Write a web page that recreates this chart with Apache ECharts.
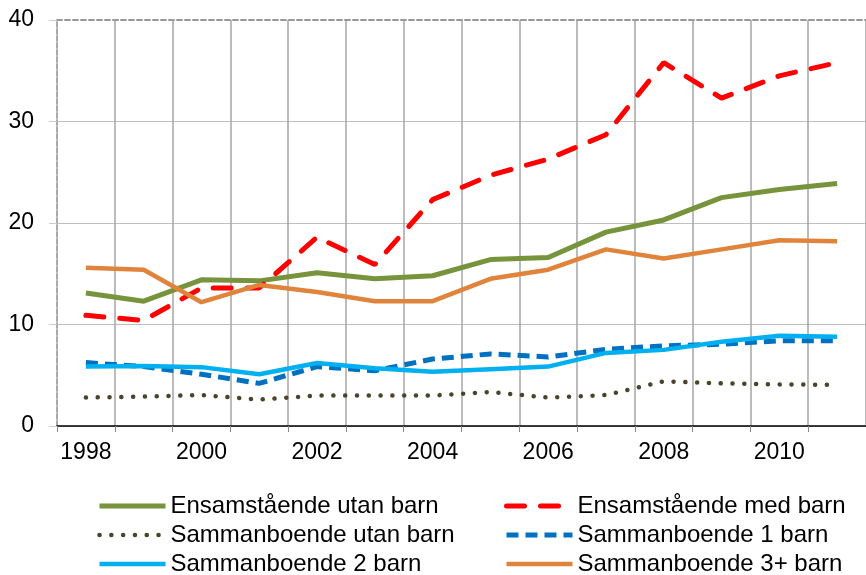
<!DOCTYPE html>
<html>
<head>
<meta charset="utf-8">
<script src="https://cdn.jsdelivr.net/npm/echarts@6/dist/echarts.min.js"></script>
<style>
  html, body { margin: 0; padding: 0; background: #fff; }
  #chart { width: 866px; height: 575px; }
</style>
</head>
<body>
<div id="chart"></div>
<script>
  // år
  const years = ['1998','1999','2000','2001','2002','2003','2004','2005','2006','2007','2008','2009','2010','2011']

  // värden
  const ensamUtan  = [13.1, 12.3, 14.4, 14.3, 15.1, 14.5, 14.8, 16.4, 16.6, 19.1, 20.3, 22.5, 23.3, 23.9]
  const ensamMed   = [10.9, 10.4, 13.6, 13.6, 18.6, 15.9, 22.3, 24.7, 26.3, 28.7, 35.8, 32.3, 34.5, 35.8]
  const sammUtan   = [2.8, 2.9, 3.05, 2.6, 3.0, 3.0, 3.0, 3.35, 2.8, 3.05, 4.4, 4.2, 4.1, 4.05]
  const samm1      = [6.25, 5.85, 5.1, 4.2, 5.85, 5.45, 6.6, 7.1, 6.8, 7.55, 7.9, 8.05, 8.4, 8.4]
  const samm2      = [5.85, 5.9, 5.8, 5.1, 6.2, 5.7, 5.35, 5.6, 5.85, 7.2, 7.5, 8.3, 8.9, 8.8]
  const samm3      = [15.6, 15.4, 12.2, 13.9, 13.2, 12.3, 12.3, 14.5, 15.4, 17.4, 16.5, 17.4, 18.3, 18.2]

  const font = "'Liberation Sans', Arial, sans-serif"

  function line(name, data, color, type, width, cap){
    return {
      name: name,
      type: 'line',
      data: data,
      symbol: 'none',
      smooth: false,
      z: 3,
      lineStyle: {
        color: color,
        width: width,
        type: type,
        cap: cap || 'butt'
      },
      itemStyle: { color: color }
    }
  }

  let legendBase = {
    top: 494,
    height: 110,      // så att den inte bryts i två kolumner
    orient: 'vertical',
    itemWidth: 66, itemHeight: 14, itemGap: 5,
    padding: 0,
    itemStyle: { opacity: 0 },          // bara linjen, ingen cirkel
    lineStyle: { width: 'inherit' },
    textStyle: { fontSize: 24, color: '#000', fontFamily: font }
  }

  let chart = echarts.init(document.getElementById('chart'))
  chart.setOption({
    animation: false,
    backgroundColor: '#fff',
    textStyle: { fontFamily: font },
    grid: {
      left: 57,
      top: 20,
      width: 819,    // går utanför bilden till höger, som i originalet
      height: 406
    },
    legend: [
      Object.assign({}, legendBase, {
        left: 97,
        data: ['Ensamstående utan barn', 'Sammanboende utan barn', 'Sammanboende 2 barn']
      }),
      Object.assign({}, legendBase, {
        left: 504,
        data: ['Ensamstående med barn', 'Sammanboende 1 barn', 'Sammanboende 3+ barn']
      })
    ],
    xAxis: [
      {
        type: 'category',
        data: years,
        boundaryGap: true,
        axisLine: { show: true, lineStyle: { color: '#000', width: 1.5 } },
        axisTick: { show: true, interval: 0, length: 6, lineStyle: { color: '#888' } },
        axisLabel: { interval: 1, fontSize: 23, color: '#000', margin: 15, fontFamily: font },
        splitLine: { show: true, interval: 0, showMinLine: false, lineStyle: { color: '#a6a6a6', width: 1.5 } }
      },
      {
        // streckad ram överst
        type: 'category',
        data: years,
        position: 'top',
        axisLine: { show: true, lineStyle: { color: '#999', width: 2, type: [5, 3] } },
        axisTick: { show: false },
        axisLabel: { show: false },
        splitLine: { show: false }
      }
    ],
    yAxis: {
      type: 'value',
      min: 0,
      max: 40,
      interval: 10,
      axisLine: { show: true, lineStyle: { color: '#aaa', width: 2, type: [5, 2] } },
      axisTick: { show: true, length: 8, lineStyle: { color: '#ccc' } },
      axisLabel: { fontSize: 23, color: '#000', margin: 23, fontFamily: font },
      splitLine: { show: true, showMaxLine: false, lineStyle: { color: '#bfbfbf', width: 1 } }
    },
    series: [
      line('Ensamstående utan barn', ensamUtan, '#77933c', 'solid', 5),
      line('Ensamstående med barn', ensamMed, '#ff0000', [18, 16], 5, 'round'),
      line('Sammanboende utan barn', sammUtan, '#4a452a', [0.1, 11.7], 4.5, 'round'),
      line('Sammanboende 1 barn', samm1, '#0070c0', [12, 7], 5),
      line('Sammanboende 2 barn', samm2, '#00b0f0', 'solid', 4.5),
      line('Sammanboende 3+ barn', samm3, '#e0843c', 'solid', 4.5)
    ]
  })
</script>
</body>
</html>
